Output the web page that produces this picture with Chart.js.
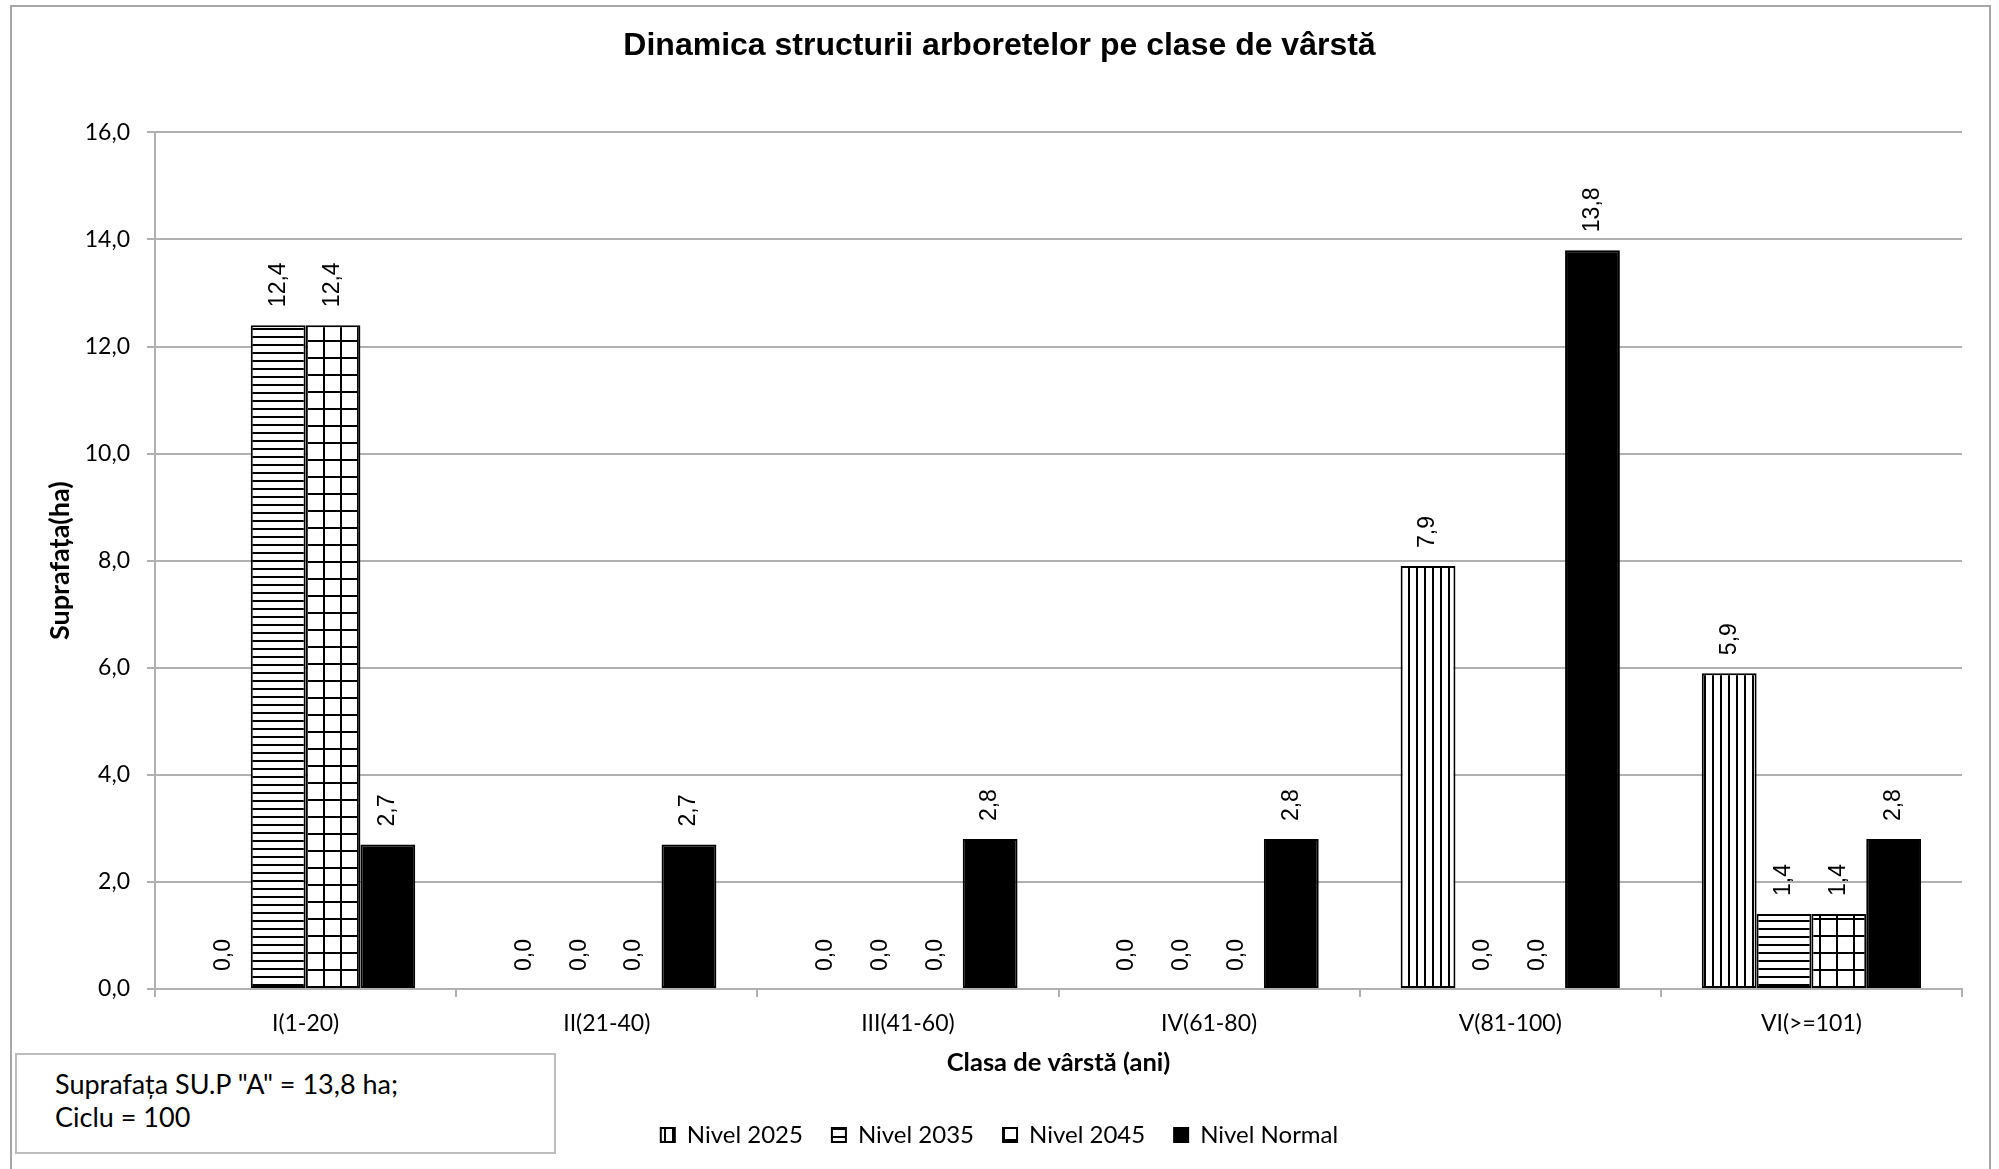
<!DOCTYPE html>
<html>
<head>
<meta charset="utf-8">
<title>Dinamica structurii arboretelor pe clase de vârstă</title>
<script src="https://cdn.jsdelivr.net/npm/chart.js@4.4.1/dist/chart.umd.min.js"></script>
<style>
  html, body { margin: 0; padding: 0; background: #fff; }
  #wrap { position: relative; width: 1999px; height: 1169px; overflow: hidden; }
  #chart { position: absolute; left: 0; top: 0; }
  #frame { position: absolute; left: 10px; top: 5px; width: 1981px; height: 1175px;
           border: 2px solid #a6a6a6; box-sizing: border-box; pointer-events: none; }
  #note { position: absolute; left: 15px; top: 1053px; width: 541px; height: 101px;
          border: 2px solid #bdbdbd; box-sizing: border-box; background: #fff;
          font-family: Lato, sans-serif; font-size: 27px; line-height: 33px; color: #000;
          padding: 12px 0 0 38px; white-space: nowrap; }
</style>
</head>
<body>
<div id="wrap">
  <canvas id="chart" width="1999" height="1169"></canvas>
  <div id="frame"></div>
  <div id="note">Suprafața SU.P "A" = 13,8 ha;<br>Ciclu = 100</div>
</div>
<script>
// date
const clase = ['I(1-20)', 'II(21-40)', 'III(41-60)', 'IV(61-80)', 'V(81-100)', 'VI(>=101)'];
const nivel2025 = [0.0, 0.0, 0.0, 0.0, 7.9, 5.9];
const nivel2035 = [12.4, 0.0, 0.0, 0.0, 0.0, 1.4];
const nivel2045 = [12.4, 0.0, 0.0, 0.0, 0.0, 1.4];
const nivelNormal = [2.7, 2.7, 2.8, 2.8, 13.8, 2.8];
const yTicks = [0, 2, 4, 6, 8, 10, 12, 14, 16];

const gri = '#b0b0b0';
const fmt = v => Number(v).toFixed(1).replace('.', ',');

const ctx = document.getElementById('chart').getContext('2d');

// hasuri tip Excel
function hasura(tip) {
    const s = tip === 'grid' ? 17 : 8;
    const c = document.createElement('canvas');
    c.width = s; c.height = s;
    const g = c.getContext('2d');
    g.fillStyle = '#fff';
    g.fillRect(0, 0, s, s);
    g.fillStyle = '#000';
    if (tip === 'vert' || tip === 'grid') g.fillRect(0, 0, 2, s);
    if (tip === 'oriz' || tip === 'grid') g.fillRect(0, 0, s, 2);
    return ctx.createPattern(c, 'repeat');
}

// etichete rotite deasupra barelor
const eticheteValori = {
    id: 'eticheteValori',
    afterDatasetsDraw(chart) {
        const c = chart.ctx;
        c.save();
        c.font = '23px "Liberation Sans", Arial, sans-serif';
        c.fillStyle = '#000';
        c.textAlign = 'left';
        c.textBaseline = 'middle';
        chart.data.datasets.forEach((ds, i) => {
            chart.getDatasetMeta(i).data.forEach((bar, j) => {
                c.save();
                c.translate(bar.x, bar.y - 18);
                c.rotate(-Math.PI / 2);
                c.fillText(fmt(ds.data[j]), 0, 0);
                c.restore();
            });
        });
        c.restore();
    }
};

const serie = (label, data, fill) => ({
    label: label,
    data: data,
    backgroundColor: fill,
    borderColor: '#000',
    borderWidth: 2,
    borderSkipped: false
});

new Chart(ctx, {
    type: 'bar',
    data: {
        labels: clase,
        datasets: [
            serie('Nivel 2025', nivel2025, hasura('vert')),
            serie('Nivel 2035', nivel2035, hasura('oriz')),
            serie('Nivel 2045', nivel2045, hasura('grid')),
            serie('Nivel Normal', nivelNormal, '#000')
        ]
    },
    options: {
        responsive: false,
        devicePixelRatio: 1,
        animation: false,
        categoryPercentage: 0.728,
        barPercentage: 1,
        layout: { padding: { left: 0, right: 0, top: 0, bottom: 12 } },
        scales: {
            x: {
                grid: { drawOnChartArea: false, drawTicks: true, tickLength: 8, offset: true, color: gri, lineWidth: 2 },
                border: { color: gri, width: 2 },
                ticks: { font: { family: 'Lato', size: 23 }, color: '#000', padding: 13, maxRotation: 0 },
                title: {
                    display: true,
                    text: 'Clasa de vârstă (ani)',
                    font: { family: 'Lato', size: 25.5, weight: 'bold' },
                    color: '#000',
                    padding: { top: 0, bottom: 15.7 }
                },
                afterFit(s) { s.height = 105; }
            },
            y: {
                min: 0,
                max: 16,
                afterBuildTicks(s) { s.ticks = yTicks.map(v => ({ value: v })); },
                ticks: { callback: v => fmt(v), font: { family: 'Lato', size: 23 }, color: '#000', padding: 17 },
                grid: { color: gri, lineWidth: 2, tickLength: 8 },
                border: { color: gri, width: 2 },
                title: {
                    display: true,
                    text: 'Suprafața(ha)',
                    font: { family: 'Lato', size: 27, weight: 'bold' },
                    color: '#000',
                    padding: { top: 44, bottom: 0 }
                },
                afterFit(s) { s.width = 155; }
            },
            dreapta: {
                position: 'right',
                grid: { display: false },
                ticks: { display: false },
                border: { display: false },
                afterFit(s) { s.width = 37; }
            }
        },
        plugins: {
            title: {
                display: true,
                text: 'Dinamica structurii arboretelor pe clase de vârstă',
                font: { family: '"Liberation Sans", Arial, sans-serif', size: 32, weight: 'bold' },
                color: '#000',
                padding: { top: 27, bottom: 67 }
            },
            legend: {
                position: 'bottom',
                labels: {
                    font: { family: 'Lato', size: 24 },
                    color: '#000',
                    boxWidth: 14,
                    boxHeight: 14,
                    padding: 29
                }
            },
            tooltip: { enabled: false }
        }
    },
    plugins: [eticheteValori]
});
</script>
</body>
</html>
